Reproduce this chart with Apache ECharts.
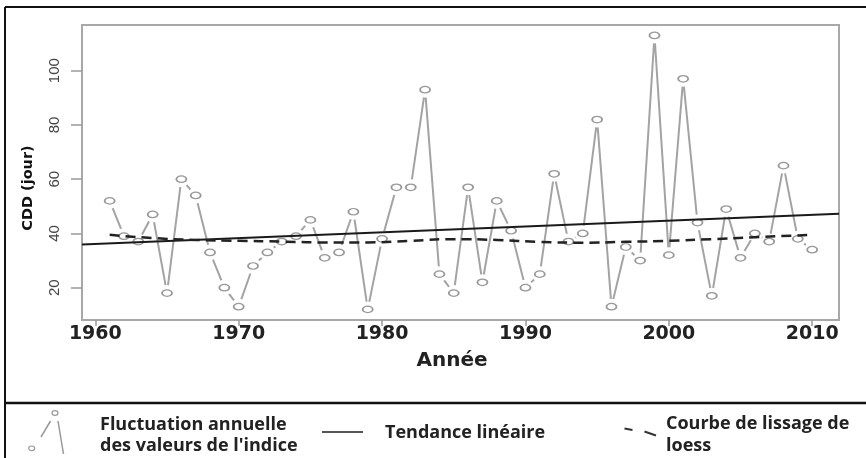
<!DOCTYPE html>
<html>
<head>
<meta charset="utf-8">
<script src="https://cdn.jsdelivr.net/npm/echarts@6/dist/echarts.min.js"></script>
<style>
html,body{margin:0;padding:0;background:#fff;}
#chart{width:866px;height:458px;}
</style>
</head>
<body>
<div id="chart"></div>
<script>
// ---- data ----
const years = [1961,1962,1963,1964,1965,1966,1967,1968,1969,1970,
               1971,1972,1973,1974,1975,1976,1977,1978,1979,1980,
               1981,1982,1983,1984,1985,1986,1987,1988,1989,1990,
               1991,1992,1993,1994,1995,1996,1997,1998,1999,2000,
               2001,2002,2003,2004,2005,2006,2007,2008,2009,2010];
const cddValues = [52,39,37,47,18,60,54,33,20,13,
                   28,33,37,39,45,31,33,48,12,38,
                   57,57,93,25,18,57,22,52,41,20,
                   25,62,37,40,82,13,35,30,113,32,
                   97,44,17,49,31,40,37,65,38,34];
const trendYears = [1959.07, 2011.87];
const trendValues = [35.9, 47.3];
const loessYears = [1961,1964,1967,1970,1973,1976,1979,1982,1985,1988,1991,1994,1997,2000,2003,2006,2010];
const loessValues = [39.5,38.3,37.6,37.3,37.0,36.7,36.7,37.3,37.9,37.6,36.9,36.6,36.9,37.3,37.9,38.6,39.5];
const xTickLabels = [1960,1970,1980,1990,2000,2010];
const yTickLabels = [20,40,60,80,100];
const xTitle = 'Année';
const yTitle = 'CDD (jour)';
const legendTexts = ['Fluctuation annuelle', "des valeurs de l'indice", 'Tendance linéaire', 'Courbe de lissage de', 'loess'];

const pts = years.map((y,i)=>[y,cddValues[i]]);
const trend = trendYears.map((y,i)=>[y,trendValues[i]]);
const loess = loessYears.map((y,i)=>[y,loessValues[i]]);

const chart = echarts.init(document.getElementById('chart'), null, {renderer:'canvas'});
const legendFont = {fontFamily:'Open Sans', fontWeight:'bold', fontSize:18, fill:'#222', verticalAlign:'middle', align:'left'};
const option = {
  backgroundColor:'#fff',
  animation:false,
  grid:{left:82, top:25, right:27, bottom:138, show:true, borderColor:'#a8a8a8', borderWidth:2, backgroundColor:'transparent'},
  xAxis:{
    type:'value', min:1959.07, max:2011.87,
    axisLine:{show:false},
    splitLine:{show:false},
    axisTick:{show:true, length:6, customValues:xTickLabels, lineStyle:{color:'#999', width:1.5}},
    axisLabel:{customValues:xTickLabels, margin:5, fontFamily:'DejaVu Sans', fontWeight:'bold', fontSize:19, color:'#222', formatter:v=>String(v)}
  },
  yAxis:{
    type:'value', min:8.09, max:116.85,
    axisLine:{show:false},
    splitLine:{show:false},
    axisTick:{show:true, length:11, customValues:yTickLabels, lineStyle:{color:'#999', width:1.5}},
    axisLabel:{customValues:yTickLabels, rotate:90, margin:20, fontFamily:'Liberation Sans', fontSize:15, color:'#444', formatter:v=>String(v)}
  },
  series:[
    {type:'line', data:pts, showSymbol:false, symbol:'none', lineStyle:{color:'#a3a3a3', width:2}, z:1, silent:true},
    {type:'scatter', data:pts, symbol:'circle', symbolSize:16, itemStyle:{color:'#fff', opacity:1}, z:2, silent:true},
    {type:'scatter', data:pts, symbol:'circle', symbolSize:[10,6.5], itemStyle:{color:'#fff', borderColor:'#999', borderWidth:1.5, opacity:1}, z:3, silent:true},
    {type:'line', data:trend, showSymbol:false, symbol:'none', lineStyle:{color:'#1a1a1a', width:2}, z:4, silent:true},
    {type:'line', data:loess, showSymbol:false, symbol:'none', smooth:true, lineStyle:{color:'#222', width:2.5, type:[10,6]}, z:5, silent:true}
  ],
  graphic:[
    // outer frame
    {type:'line', shape:{x1:5, y1:7, x2:866, y2:7}, style:{stroke:'#111', lineWidth:2}},
    {type:'line', shape:{x1:5, y1:7, x2:5, y2:458}, style:{stroke:'#111', lineWidth:2}},
    {type:'line', shape:{x1:5, y1:403, x2:866, y2:403}, style:{stroke:'#111', lineWidth:2.5}},
    // axis titles
    {type:'text', x:452, y:361, style:{text:xTitle, fontFamily:'DejaVu Sans', fontWeight:'bold', fontSize:20, fill:'#222', align:'center', verticalAlign:'middle'}},
    {type:'text', x:28, y:188, rotation:Math.PI/2, style:{text:yTitle, fontFamily:'DejaVu Sans', fontWeight:'bold', fontSize:14.5, fill:'#111', align:'center', verticalAlign:'middle'}},
    // legend icon 1
    {type:'line', shape:{x1:50.5, y1:421, x2:41, y2:437}, style:{stroke:'#9a9a9a', lineWidth:1.5}},
    {type:'line', shape:{x1:58, y1:421, x2:63.5, y2:454}, style:{stroke:'#9a9a9a', lineWidth:1.5}},
    {type:'ellipse', shape:{cx:55, cy:413, rx:3, ry:2.3}, style:{fill:'#fff', stroke:'#9a9a9a', lineWidth:1.2}},
    {type:'ellipse', shape:{cx:31.7, cy:448.3, rx:3, ry:2.3}, style:{fill:'#fff', stroke:'#9a9a9a', lineWidth:1.2}},
    {type:'text', x:100, y:424.5, style:Object.assign({text:legendTexts[0]}, legendFont)},
    {type:'text', x:100, y:445.5, style:Object.assign({text:legendTexts[1]}, legendFont)},
    // legend icon 2
    {type:'line', shape:{x1:322, y1:432, x2:363, y2:432}, style:{stroke:'#555', lineWidth:2}},
    {type:'text', x:385, y:432.5, style:Object.assign({text:legendTexts[2]}, legendFont)},
    // legend icon 3
    {type:'line', shape:{x1:624.5, y1:428.5, x2:632.5, y2:430}, style:{stroke:'#333', lineWidth:2}},
    {type:'line', shape:{x1:644.5, y1:431.5, x2:656, y2:435.5}, style:{stroke:'#333', lineWidth:2}},
    {type:'text', x:666, y:423.5, style:Object.assign({text:legendTexts[3]}, legendFont)},
    {type:'text', x:666, y:446, style:Object.assign({text:legendTexts[4]}, legendFont)}
  ]
};
chart.setOption(option);
</script>
</body>
</html>
